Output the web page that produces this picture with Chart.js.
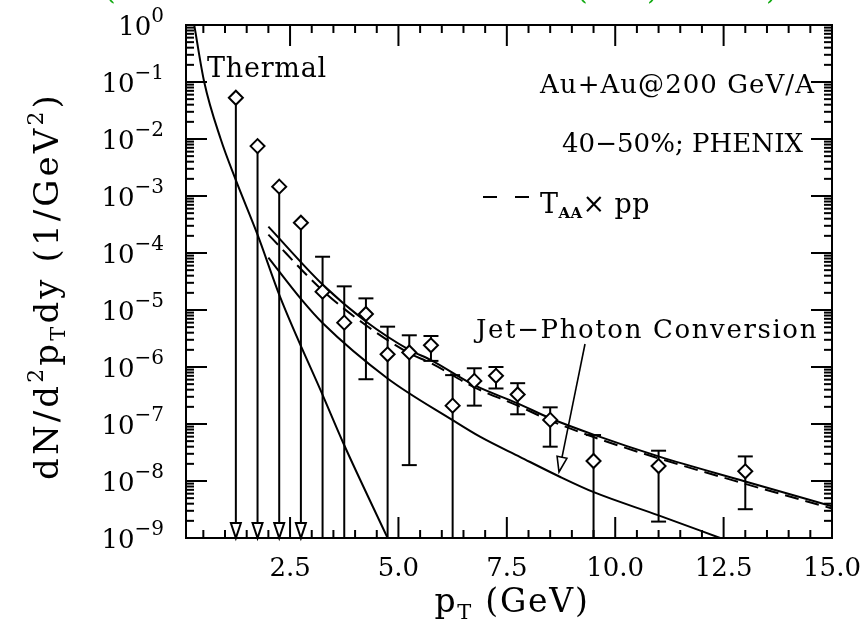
<!DOCTYPE html>
<html>
<head>
<meta charset="utf-8">
<script src="https://cdn.jsdelivr.net/npm/chart.js@4.4.0/dist/chart.umd.min.js"></script>
<style>
  body { margin: 0; background: #fff; }
  #wrap { width: 862px; height: 632px; position: relative; }
</style>
</head>
<body>
<div id="wrap"><canvas id="chart"></canvas></div>
<script>
// PHENIX 40-50% direct photon data (diamonds)
const dataPt = [1.25, 1.75, 2.25, 2.75, 3.25, 3.75, 4.25, 4.75, 5.25, 5.75, 6.25, 6.75, 7.25, 7.75, 8.5, 9.5, 11.0, 13.0]
const dataVal = [5.3e-2, 7.5e-3, 1.46e-3, 3.4e-4, 2.1e-5, 6.0e-6, 8.5e-6, 1.67e-6, 1.8e-6, 2.4e-6, 2.1e-7, 5.7e-7, 7.0e-7, 3.3e-7, 1.18e-7, 2.24e-8, 1.83e-8, 1.48e-8]
const dataHi = [null, null, null, null, 8.6e-5, 2.6e-5, 1.6e-5, 5.1e-6, 3.6e-6, 3.5e-6, 7.2e-7, 9.5e-7, 1.0e-6, 5.2e-7, 1.96e-7, 6.4e-8, 3.4e-8, 2.7e-8]
// null = below the bottom of the axis
const dataLo = [null, null, null, null, null, null, 6.1e-7, null, 1.9e-8, 1.28e-6, null, 2.1e-7, 4.2e-7, 1.48e-7, 4.0e-8, null, 1.94e-9, 3.2e-9]
const upperLimit = [true, true, true, true, false, false, false, false, false, false, false, false, false, false, false, false, false, false]

// thermal photons
const thermalPt = [0.29, 0.52, 0.9, 1.25, 1.75, 2.27, 3.27, 3.73, 4.75]
const thermalVal = [1.0, 1.0e-1, 1.0e-2, 1.9e-3, 2.1e-4, 1.7e-5, 3.0e-7, 4.6e-8, 1.0e-9]

// jet-photon conversion
const jetPt = [2.0, 2.77, 3.25, 4.75, 6.25, 6.88, 7.81, 8.71, 9.52, 11.0, 12.42]
const jetVal = [8.3e-5, 1.5e-5, 5.9e-6, 6.3e-7, 1.17e-7, 6.0e-8, 2.63e-8, 1.2e-8, 6.3e-9, 2.5e-9, 1.0e-9]

// total (solid) and T_AA x pp (dashed)
const sumPt = [2.0, 3.25, 4.25, 5.25, 5.75, 6.75, 7.75, 8.5, 9.5, 11.0, 13.0, 15.0]
const sumVal = [2.9e-4, 2.8e-5, 6.3e-6, 2.0e-6, 1.32e-6, 4.8e-7, 2.3e-7, 1.26e-7, 6.5e-8, 2.7e-8, 9.8e-9, 3.6e-9]
const ppVal = [2.1e-4, 2.2e-5, 5.4e-6, 1.74e-6, 1.17e-6, 4.4e-7, 2.1e-7, 1.15e-7, 5.9e-8, 2.5e-8, 8.9e-9, 3.3e-9]

const xTicks = [2.5, 5.0, 7.5, 10.0, 12.5, 15.0]
const yExponents = [0, -1, -2, -3, -4, -5, -6, -7, -8, -9]

const FONT = '"DejaVu Serif", serif'

const pts = (xs, ys) => xs.map((x, i) => ({ x: x, y: ys[i] }))

function setFont(ctx, p) {
  ctx.font = (p[3] || '') + ' ' + p[1] + 'px ' + FONT
}

// draws text made of parts [text, size, dy, weight]; optional width stretches it
function rich(ctx, parts, x, y, align, width) {
  let w = 0, n = 0
  for (const p of parts) {
    setFont(ctx, p)
    w += ctx.measureText(p[0]).width
    n += p[0].length
  }
  const sp = width ? (width - w) / n : 0
  const total = w + sp * n
  let cx = align === 'right' ? x - total : align === 'center' ? x - total / 2 : x
  ctx.textAlign = 'left'
  ctx.textBaseline = 'alphabetic'
  for (const p of parts) {
    setFont(ctx, p)
    for (const ch of p[0]) {
      ctx.fillText(ch, cx, y + (p[2] || 0))
      cx += ctx.measureText(ch).width + sp
    }
  }
}

function seg(ctx, x1, y1, x2, y2) {
  ctx.beginPath()
  ctx.moveTo(x1, y1)
  ctx.lineTo(x2, y2)
  ctx.stroke()
}

const errorBars = {
  id: 'errorBars',
  beforeDatasetsDraw(chart) {
    const ctx = chart.ctx
    const xs = chart.scales.x, ys = chart.scales.y
    const bottom = chart.chartArea.bottom
    ctx.save()
    ctx.strokeStyle = '#000'
    ctx.lineWidth = 2
    for (let i = 0; i < dataPt.length; i++) {
      const px = xs.getPixelForValue(dataPt[i])
      const py = ys.getPixelForValue(dataVal[i])
      if (upperLimit[i]) {
        seg(ctx, px, py, px, bottom - 14)
        ctx.beginPath()
        ctx.moveTo(px - 5, bottom - 15)
        ctx.lineTo(px + 5, bottom - 15)
        ctx.lineTo(px, bottom)
        ctx.closePath()
        ctx.fillStyle = '#fff'
        ctx.fill()
        ctx.stroke()
        continue
      }
      const yHi = ys.getPixelForValue(dataHi[i])
      const yLo = dataLo[i] === null ? bottom : ys.getPixelForValue(dataLo[i])
      seg(ctx, px, yHi, px, yLo)
      seg(ctx, px - 7.5, yHi, px + 7.5, yHi)
      if (dataLo[i] !== null) seg(ctx, px - 7.5, yLo, px + 7.5, yLo)
    }
    ctx.restore()
  }
}

const frame = {
  id: 'frame',
  afterDraw(chart) {
    const ctx = chart.ctx
    const { left, right, top, bottom } = chart.chartArea
    const xs = chart.scales.x, ys = chart.scales.y
    ctx.save()
    ctx.strokeStyle = '#000'
    ctx.fillStyle = '#000'
    ctx.lineWidth = 2
    ctx.strokeRect(left, top, right - left, bottom - top)

    // x ticks, top and bottom
    for (let k = 1; k <= 30; k++) {
      const v = k * 0.5
      const px = xs.getPixelForValue(v)
      const len = k % 5 === 0 ? 21 : 8
      seg(ctx, px, bottom, px, bottom - len)
      seg(ctx, px, top, px, top + len)
    }
    // y ticks, left and right
    for (const e of yExponents) {
      for (let m = 1; m <= 9; m++) {
        const v = m * Math.pow(10, e)
        if (v > 1.0001) break
        const py = ys.getPixelForValue(v)
        const len = m === 1 ? 21 : 8
        seg(ctx, left, py, left + len, py)
        seg(ctx, right, py, right - len, py)
      }
    }

    // tick labels
    for (const v of xTicks) {
      rich(ctx, [[v.toFixed(1), 26]], xs.getPixelForValue(v), 576, 'center')
    }
    for (const e of yExponents) {
      const py = ys.getPixelForValue(Math.pow(10, e))
      const sup = e === 0 ? '0' : '\u2212' + (-e)
      rich(ctx, [['10', 26], [sup, 20, -13]], 164, py + 10, 'right')
    }

    // axis titles
    rich(ctx, [['p', 33], ['T', 21, 7], [' (GeV)', 33]], 512, 612, 'center', 155)
    ctx.save()
    ctx.translate(46, 286)
    ctx.rotate(-Math.PI / 2)
    rich(ctx, [['dN/d', 34], ['2', 22, -15], ['p', 34], ['T', 21, 7], ['dy (1/GeV', 34], ['2', 22, -15], [')', 34]], 0, 12, 'center', 388)
    ctx.restore()

    // annotations
    rich(ctx, [['Thermal', 27]], 207, 77, 'left', 120)
    rich(ctx, [['Au+Au@200 GeV/A', 26]], 815, 93, 'right', 275)
    rich(ctx, [['40\u221250%; PHENIX', 26]], 803, 152, 'right', 241)
    ctx.save()
    ctx.lineWidth = 2
    seg(ctx, 483, 197, 497, 197)
    seg(ctx, 515, 197, 529, 197)
    ctx.restore()
    rich(ctx, [['T', 27], ['AA', 15, 5, 'bold'], ['\u00d7 pp', 27]], 540, 213, 'left', 110)
    rich(ctx, [['Jet\u2212Photon Conversion', 26]], 476, 338, 'left', 342)

    // arrow pointing at jet-photon conversion curve
    ctx.lineWidth = 1.6
    const ax = 585, ay = 344, tx = 559, ty = 472
    const ang = Math.atan2(ty - ay, tx - ax)
    const hl = 15, hw = 5
    const bx = tx - hl * Math.cos(ang), by = ty - hl * Math.sin(ang)
    seg(ctx, ax, ay, bx, by)
    ctx.beginPath()
    ctx.moveTo(bx + hw * Math.sin(ang), by - hw * Math.cos(ang))
    ctx.lineTo(tx, ty)
    ctx.lineTo(bx - hw * Math.sin(ang), by + hw * Math.cos(ang))
    ctx.closePath()
    ctx.stroke()

    // cut-off green heading at the very top
    ctx.fillStyle = '#11aa11'
    ctx.font = '30px ' + FONT
    ctx.textAlign = 'left'
    ctx.fillText('(', 104, -1)
    ctx.fillText('(', 576, -1)
    ctx.fillText(')', 647, -1)
    ctx.fillText(')', 766, -1)
    ctx.restore()
  }
}

const curve = (data, dash) => ({
  type: 'line',
  data: data,
  borderColor: '#000',
  borderWidth: 2,
  borderDash: dash || [],
  pointRadius: 0,
  fill: false,
  cubicInterpolationMode: 'monotone',
  order: 2
})

new Chart(document.getElementById('chart'), {
  type: 'scatter',
  data: {
    datasets: [
      curve(pts(thermalPt, thermalVal)),
      curve(pts(jetPt, jetVal)),
      curve(pts(sumPt, sumVal)),
      curve(pts(sumPt, ppVal), [14, 7]),
      {
        type: 'scatter',
        data: pts(dataPt, dataVal),
        pointStyle: 'rectRot',
        pointRadius: 7,
        borderColor: '#000',
        borderWidth: 2,
        backgroundColor: '#fff',
        order: 1
      }
    ]
  },
  options: {
    responsive: true,
    maintainAspectRatio: false,
    animation: false,
    layout: { padding: { left: 186, top: 25, right: 30, bottom: 94 } },
    plugins: { legend: { display: false }, tooltip: { enabled: false } },
    scales: {
      x: { type: 'linear', min: 0.1, max: 15, display: false },
      y: { type: 'logarithmic', min: 1e-9, max: 1, display: false }
    }
  },
  plugins: [errorBars, frame]
})
</script>
</body>
</html>
